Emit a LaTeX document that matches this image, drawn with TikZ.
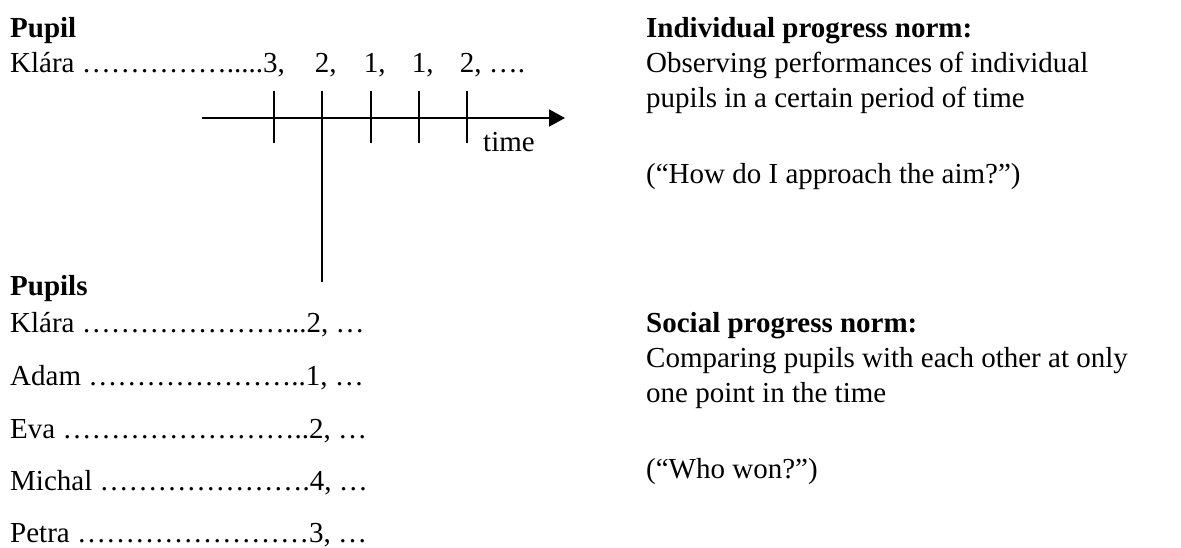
\documentclass[tikz,border=0pt]{standalone}
\usepackage{fontspec}
\setmainfont{Liberation Serif}
\usetikzlibrary{arrows.meta}
\begin{document}
\begin{tikzpicture}[x=1pt,y=-1pt,
  txt/.style={anchor=base west,inner sep=0pt,font=\fontsize{29}{35}\selectfont},
  head/.style={txt,font=\fontsize{29}{35}\selectfont\bfseries},
  rule/.style={line width=1.8pt}]
\useasboundingbox (0,0) rectangle (1181,547);

% one pupil followed over time
\node[head] (pupil) at (10,37) {Pupil};
\node[txt] (k0) at (10,72) {Klára …………….....3,};
\node[txt] (m2) at (314.75,72) {2,};
\node[txt] (m3) at (363.75,72) {1,};
\node[txt] (m4) at (411.75,72) {1,};
\node[txt] (m5) at (459.75,72) {2, ….};

% time axis with its marks
\coordinate (axL) at (202,118);
\coordinate (axR) at (565,118);
\draw[rule,-{Triangle[length=16pt,width=17pt]}] (axL) -- (axR);
\foreach \x/\n in {274/t1,371/t3,419/t4,467/t5}{
  \coordinate (\n a) at (\x,91);
  \coordinate (\n b) at (\x,143);
  \draw[rule] (\n a) -- (\n b);
}
% the mark that cuts across all pupils at one moment
\coordinate (t2a) at (322,91);
\coordinate (t2b) at (322,282);
\draw[rule] (t2a) -- (t2b);
\node[txt] (time) at (483,151) {time};

% all pupils at one moment
\node[head] (pupils) at (10,295) {Pupils};
\node[txt] (r1) at (10,332) {Klára …………………...2, …};
\node[txt] (r2) at (10,385) {Adam …………………..1, …};
\node[txt] (r3) at (10,438) {Eva ……………………..2, …};
\node[txt] (r4) at (10,490) {Michal ………………….4, …};
\node[txt] (r5) at (10,542) {Petra ……………………3, …};

% explanations
\node[head] (ih) at (646,37) {Individual progress norm:};
\node[txt] (i1) at (646,72) {Observing performances of individual};
\node[txt] (i2) at (646,107) {pupils in a certain period of time};
\node[txt] (i3) at (646,183) {(“How do I approach the aim?”)};

\node[head] (sh) at (646,332) {Social progress norm:};
\node[txt] (s1) at (646,367) {Comparing pupils with each other at only};
\node[txt] (s2) at (646,402) {one point in the time};
\node[txt] (s3) at (646,478) {(“Who won?”)};
\end{tikzpicture}
\end{document}
